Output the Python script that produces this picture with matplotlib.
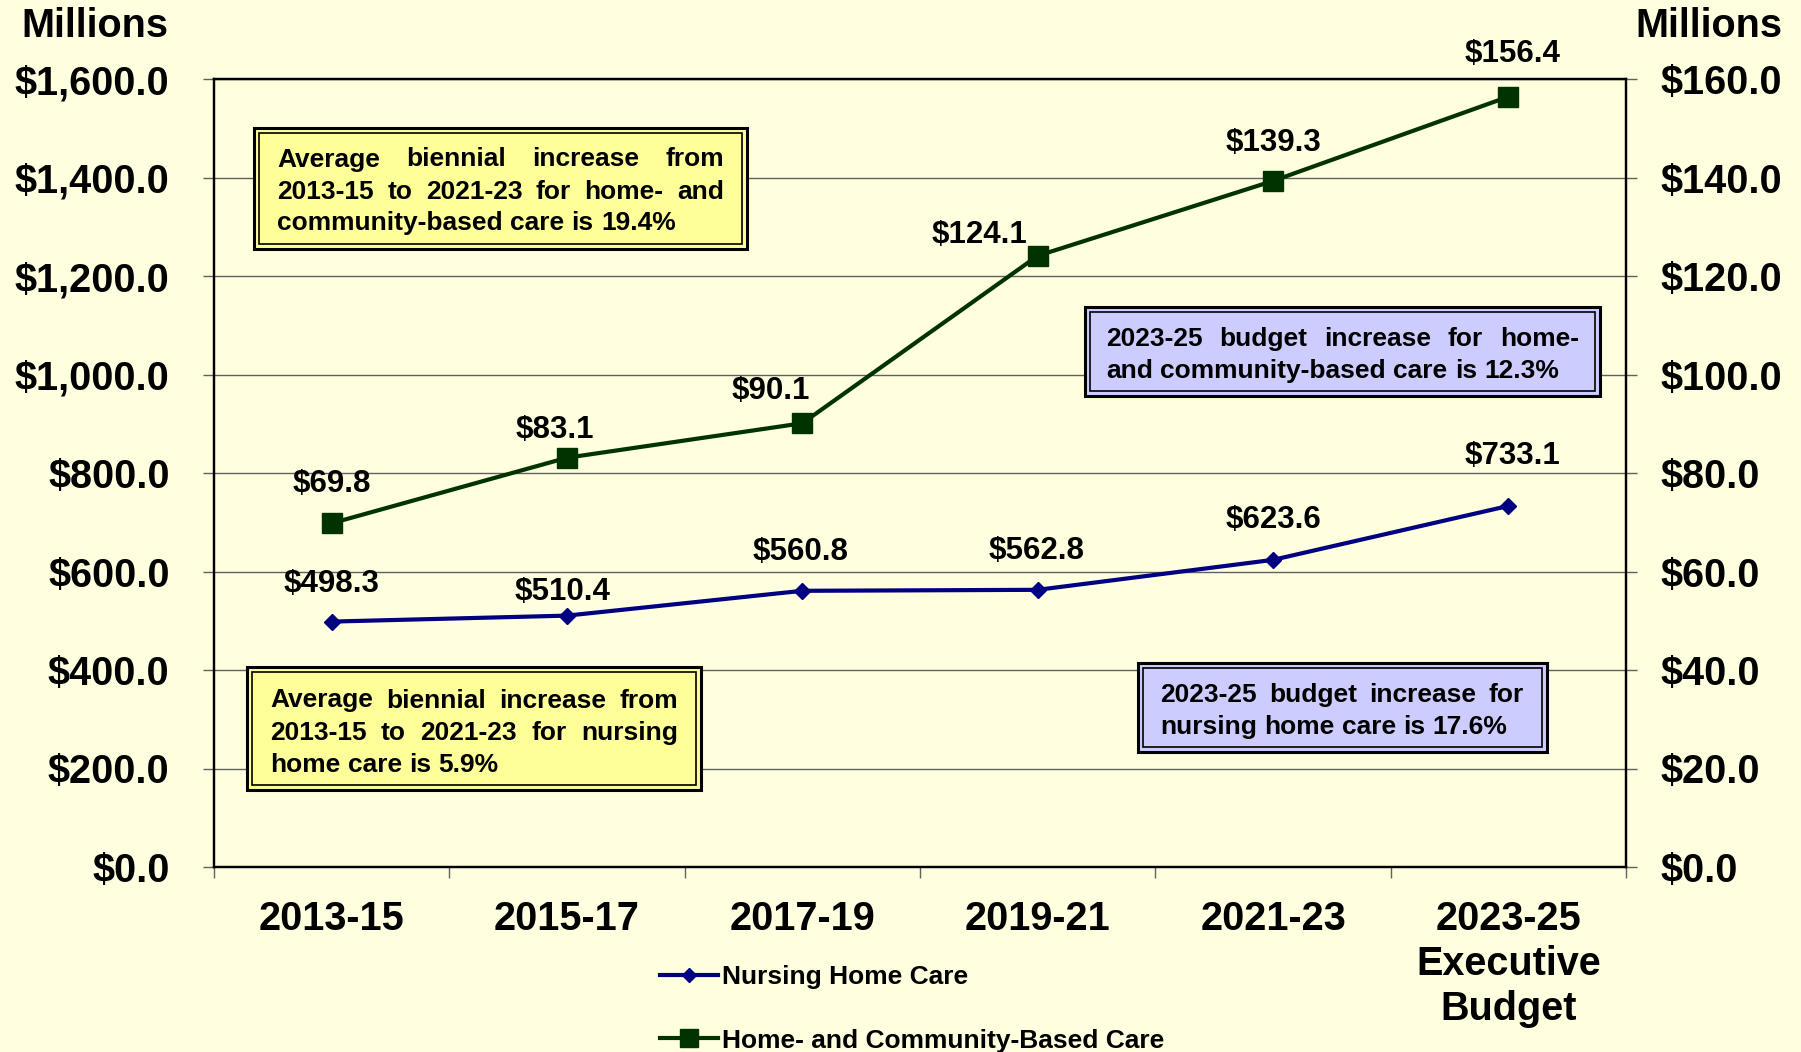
import numpy as np
import matplotlib.pyplot as plt
from matplotlib.patches import Rectangle
from matplotlib.ticker import FixedLocator

plt.rcParams['font.family'] = ['Liberation Sans', 'DejaVu Sans']
plt.rcParams['font.weight'] = 'bold'

# data
periods = ["2013-15", "2015-17", "2017-19", "2019-21", "2021-23", "2023-25\nExecutive\nBudget"]
nursing = [498.3, 510.4, 560.8, 562.8, 623.6, 733.1]
hcbc = [69.8, 83.1, 90.1, 124.1, 139.3, 156.4]
left_ticks = [0, 200, 400, 600, 800, 1000, 1200, 1400, 1600]
right_ticks = [0, 20, 40, 60, 80, 100, 120, 140, 160]

box_hcbc_avg = ["Average biennial increase from",
                "2013-15 to 2021-23 for home- and",
                "community-based care is 19.4%"]
box_nh_avg = ["Average biennial increase from",
              "2013-15 to 2021-23 for nursing",
              "home care is 5.9%"]
box_hcbc_bud = ["2023-25 budget increase for home-",
                "and community-based care is 12.3%"]
box_nh_bud = ["2023-25 budget increase for",
              "nursing home care is 17.6%"]

# label offsets in points (dx, dy)
nh_dx = [0, -3, -1, -1, 0, 3]
nh_dy = [27, 17, 28, 28, 29, 36]
hc_dx = [0, -9, -23, -42, 0, 3]
hc_dy = [28, 20, 23, 15, 27, 31]

BG = '#FFFFE0'
NAVY = '#000080'
GREEN = '#003300'
GRID = '#606060'

W, H = 1801, 1052
fig = plt.figure(figsize=(W / 100, H / 100), dpi=100, facecolor=BG)
ax = fig.add_axes([214 / W, 1 - 867 / H, (1626 - 214) / W, (867 - 79) / H])
ax.set_facecolor(BG)
ax2 = ax.twinx()

x = np.arange(len(periods))
l1, = ax.plot(x, nursing, color=NAVY, lw=3, marker='D', ms=8, label='Nursing Home Care', zorder=5)
l2, = ax2.plot(x, hcbc, color=GREEN, lw=3, marker='s', ms=14, label='Home- and Community-Based Care', zorder=5)

for i, v in enumerate(nursing):
    ax.annotate(f"${v:,.1f}", (x[i], v), xytext=(nh_dx[i], nh_dy[i]), textcoords='offset points',
                ha='center', va='center', fontsize=22.5, fontweight='bold')
for i, v in enumerate(hcbc):
    ax2.annotate(f"${v:,.1f}", (x[i], v), xytext=(hc_dx[i], hc_dy[i]), textcoords='offset points',
                 ha='center', va='center', fontsize=22.5, fontweight='bold')

ax.set_xlim(-0.5, len(periods) - 0.5)
ax.set_ylim(0, 1600)
ax2.set_ylim(0, 160)
ax.set_yticks(left_ticks)
ax.set_yticklabels([f"${t:,.1f}" for t in left_ticks])
ax2.set_yticks(right_ticks)
ax2.set_yticklabels([f"${t:,.1f}" for t in right_ticks])
ax.set_xticks(x)
ax.set_xticklabels(periods, linespacing=1.22)
ax.xaxis.set_minor_locator(FixedLocator(np.arange(-0.5, len(periods), 1.0)))

ax.tick_params(axis='x', which='major', length=0, pad=24, labelsize=28.5)
ax.tick_params(axis='x', which='minor', length=8, width=1, color=GRID, direction='out')
ax.tick_params(axis='y', length=8, width=1, color=GRID, pad=24, labelsize=28.5)
ax2.tick_params(axis='y', length=8, width=1, color=GRID, pad=17, labelsize=28.5)
for t in ax.get_xticklabels() + ax.get_yticklabels() + ax2.get_yticklabels():
    t.set_fontweight('bold')

ax.grid(axis='y', color=GRID, lw=1)
ax.set_axisbelow(True)
for a in (ax, ax2):
    for s in a.spines.values():
        s.set_color('black')
        s.set_linewidth(1.6)

fig.text(95 / W, 1 - 26 / H, "Millions", ha='center', va='center', fontsize=28.5, fontweight='bold')
fig.text(1709 / W, 1 - 26 / H, "Millions", ha='center', va='center', fontsize=28.5, fontweight='bold')

fig.legend(handles=[l1, l2], loc='upper left', bbox_to_anchor=(660 / W, 1 - 965 / H),
           frameon=False, prop={'weight': 'bold', 'size': 19}, handlelength=2.2,
           handletextpad=0.15, labelspacing=1.5, borderpad=0, borderaxespad=0, markerscale=0.95)

renderer = fig.canvas.get_renderer()


def note_box(lines, box, tx0, tx1, ys, fill, size=19):
    bx0, by0, bx1, by1 = box
    fig.patches.append(Rectangle((bx0 / W, 1 - by1 / H), (bx1 - bx0) / W, (by1 - by0) / H,
                                 transform=fig.transFigure, facecolor=fill, edgecolor='black',
                                 lw=2.2, zorder=6))
    ins = 5
    fig.patches.append(Rectangle(((bx0 + ins) / W, 1 - (by1 - ins) / H), (bx1 - bx0 - 2 * ins) / W,
                                 (by1 - by0 - 2 * ins) / H, transform=fig.transFigure,
                                 facecolor='none', edgecolor='black', lw=1.2, zorder=7))
    px = size * 100 / 72
    for i, (line, yc) in enumerate(zip(lines, ys)):
        words = line.split()
        base = 1 - (yc + 0.36 * px) / H
        ts = [fig.text(0, base, w, fontsize=size, fontweight='bold', ha='left', va='baseline', zorder=8)
              for w in words]
        widths = [t.get_window_extent(renderer).width for t in ts]
        if i < len(lines) - 1 and len(words) > 1:
            gap = (tx1 - tx0 - sum(widths)) / (len(words) - 1)
        else:
            gap = 0.278 * px
        xp = tx0
        for t, w in zip(ts, widths):
            t.set_x(xp / W)
            xp += w + gap


note_box(box_hcbc_avg, (254, 128, 747, 249), 277, 724, [157, 189.5, 220.5], '#FFFF99')
note_box(box_nh_avg, (247, 667, 701, 790), 270, 678, [698, 730.5, 762.7], '#FFFF99')
note_box(box_hcbc_bud, (1085, 307, 1600, 396), 1106, 1579, [336.5, 368.7], '#CCCCFF')
note_box(box_nh_bud, (1138, 663, 1547, 752), 1160, 1524, [692.6, 724.8], '#CCCCFF')

fig.savefig('out.png', dpi=100, facecolor=BG)
